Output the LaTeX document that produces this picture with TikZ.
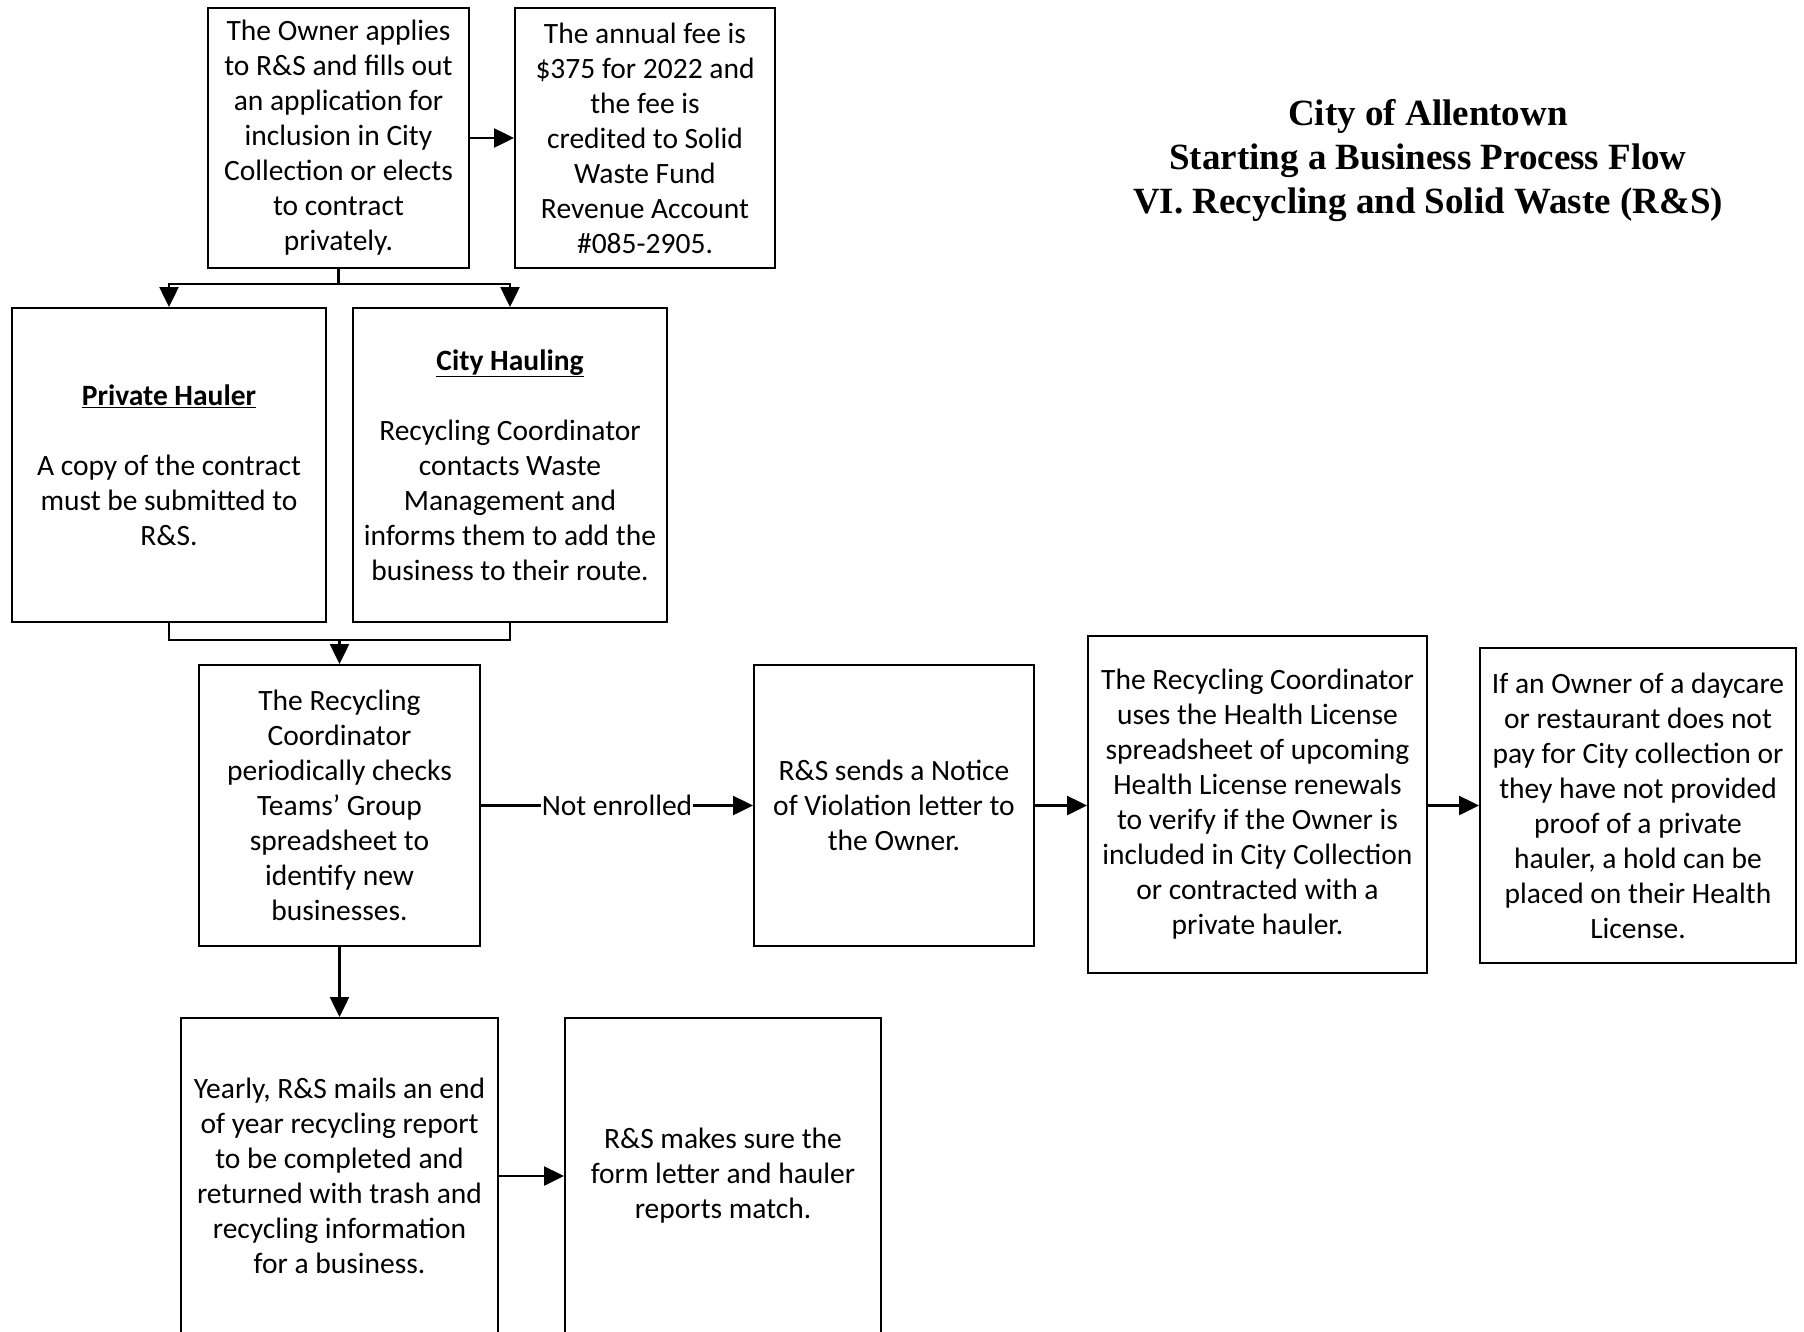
\documentclass[tikz,border=0pt]{standalone}
\usepackage{fontspec}
\setmainfont{Carlito}
\newfontfamily\titlefamily{Liberation Serif}
\usetikzlibrary{arrows.meta}
\begin{document}
\begin{tikzpicture}[x=1pt,y=-1pt,
  box/.style={draw, line width=2pt, align=center, inner sep=0pt,
    font=\fontsize{29.5}{35}\selectfont},
  conn/.style={line width=2.5pt},
  arr/.style={line width=2.5pt, -{Triangle[length=20pt,width=19pt]}},
  lbl/.style={fill=white, inner sep=1pt, font=\fontsize{29.5}{35}\selectfont}]
\fill[white] (0,0) rectangle (1804,1331);
\useasboundingbox (0,0) rectangle (1804,1331);

\node[align=center, font=\titlefamily\bfseries\fontsize{37}{44}\selectfont] (title) at (1428,161)
  {City of Allentown\\Starting a Business Process Flow\\VI. Recycling and Solid Waste (R\&S)};

\node[box, minimum width=261pt, minimum height=260pt] (owner) at (338.5,138)
  {The Owner applies\\to R\&S and fills out\\an application for\\inclusion in City\\Collection or elects\\to contract\\privately.};
\node[box, minimum width=260pt, minimum height=260pt] (fee) at (645,138)
  {The annual fee is\\\$375 for 2022 and\\the fee is\\credited to Solid\\Waste Fund\\Revenue Account\\\#085-2905.};
\node[box, minimum width=314pt, minimum height=314pt] (ph) at (169,465)
  {\underline{\textbf{Private Hauler}}\\[35pt]A copy of the contract\\must be submitted to\\R\&S.};
\node[box, minimum width=314pt, minimum height=314pt] (ch) at (510,465)
  {\underline{\textbf{City Hauling}}\\[35pt]Recycling Coordinator\\contacts Waste\\Management and\\informs them to add the\\business to their route.};
\node[box, minimum width=281pt, minimum height=281pt] (rc) at (339.5,805.5)
  {The Recycling\\Coordinator\\periodically checks\\Teams’ Group\\spreadsheet to\\identify new\\businesses.};
\node[box, minimum width=280pt, minimum height=281pt] (nov) at (894,805.5)
  {R\&S sends a Notice\\of Violation letter to\\the Owner.};
\node[box, minimum width=339pt, minimum height=337pt] (hl) at (1257.5,804.5)
  {The Recycling Coordinator\\uses the Health License\\spreadsheet of upcoming\\Health License renewals\\to verify if the Owner is\\included in City Collection\\or contracted with a\\private hauler.};
\node[box, minimum width=316pt, minimum height=315pt] (ifo) at (1638,805.5)
  {If an Owner of a daycare\\or restaurant does not\\pay for City collection or\\they have not provided\\proof of a private\\hauler, a hold can be\\placed on their Health\\License.};
\node[box, minimum width=317pt, minimum height=316pt] (yearly) at (339.5,1176)
  {Yearly, R\&S mails an end\\of year recycling report\\to be completed and\\returned with trash and\\recycling information\\for a business.};
\node[box, minimum width=316pt, minimum height=316pt] (match) at (723,1176)
  {R\&S makes sure the\\form letter and hauler\\reports match.};

\coordinate (j1) at (338.5,284);
\coordinate (j2) at (339.5,640);

\draw[arr] (owner.east) -- (fee.west);
\draw[conn] (owner.south) -- (j1);
\draw[arr] (j1) -| (ph.north);
\draw[arr] (j1) -| (ch.north);
\draw[conn] (ph.south) |- (j2) -| (ch.south);
\draw[arr] (j2) -- (rc.north);
\draw[arr] (rc.east) -- node[lbl] {Not enrolled} (nov.west);
\draw[arr] (nov.east) -- (nov.east -| hl.west);
\draw[arr] (hl.east |- ifo.west) -- (ifo.west);
\draw[arr] (rc.south) -- (yearly.north);
\draw[arr] (yearly.east) -- (match.west);
\end{tikzpicture}
\end{document}
